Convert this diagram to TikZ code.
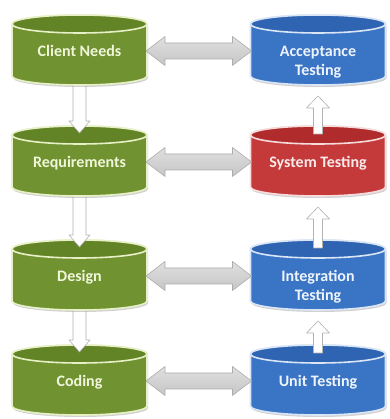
\documentclass[tikz,border=0pt]{standalone}
\usepackage{fontspec}
\setmainfont{Carlito}
\usetikzlibrary{calc,shadows}

\definecolor{grnBody}{RGB}{112,146,48}
\definecolor{grnTop}{RGB}{99,132,38}
\definecolor{grnRim}{RGB}{232,240,200}
\definecolor{grnText}{RGB}{240,246,218}
\definecolor{bluBody}{RGB}{58,116,196}
\definecolor{bluTop}{RGB}{46,100,178}
\definecolor{bluRim}{RGB}{218,230,246}
\definecolor{bluText}{RGB}{238,244,252}
\definecolor{redBody}{RGB}{196,58,58}
\definecolor{redTop}{RGB}{176,44,44}
\definecolor{redRim}{RGB}{246,220,220}
\definecolor{redText}{RGB}{250,234,234}

\tikzset{
  cylbox/.style={rectangle, minimum width=135pt, minimum height=70pt, inner sep=0pt, outer sep=0pt},
  cyltext/.style={anchor=north, inner sep=0pt, align=center, font=\bfseries\fontsize{16}{19.5}\selectfont},
  sidearrow/.style={draw=gray!65, line width=0.6pt, line join=round, top color=gray!25, middle color=white, bottom color=gray!45},
  flowarrow/.style={draw=gray!60, line width=0.6pt, line join=round, fill=white},
  cylshadow/.style={drop shadow={shadow xshift=1pt, shadow yshift=-2pt, opacity=0.3, fill=black!60}},
}

% cylinder drawn inside the box of node #1: body colour #2, lid colour #3, rim colour #4
\newcommand\drawcyl[4]{%
  \path[fill=#2, draw=#4, line width=1.6pt, cylshadow]
    ($(#1.north west)+(0,-9pt)$) -- ($(#1.south west)+(0,9pt)$)
    arc[start angle=180, end angle=360, x radius=67.5pt, y radius=9pt]
    -- ($(#1.north east)+(0,-9pt)$)
    arc[start angle=0, end angle=180, x radius=67.5pt, y radius=9pt] -- cycle;
  \path[fill=#3, draw=#4, line width=1.6pt]
    ($(#1.north)+(0,-9pt)$) ellipse[x radius=67.5pt, y radius=9pt];
}

% downward block arrow from node #1 (above) into node #2 (below)
\newcommand\flowdown[2]{%
  \path[flowarrow] let \p1=($(#1.south)+(0,10pt)$), \p2=($(#2.north)+(0,-7pt)$) in
    (\x1-6.5pt,\y1) -- (\x1-6.5pt,\y2+12pt) -- (\x1-10.5pt,\y2+12pt) -- (\x1,\y2)
    -- (\x1+10.5pt,\y2+12pt) -- (\x1+6.5pt,\y2+12pt) -- (\x1+6.5pt,\y1) -- cycle;
}

% upward block arrow from node #1 (below) towards node #2 (above)
\newcommand\flowup[2]{%
  \path[flowarrow] let \p1=($(#1.north)+(0,-8pt)$), \p2=($(#2.south)+(0,-11pt)$) in
    (\x1-4.5pt,\y1) -- (\x1-4.5pt,\y2-12pt) -- (\x1-11.5pt,\y2-12pt) -- (\x1,\y2)
    -- (\x1+11.5pt,\y2-12pt) -- (\x1+4.5pt,\y2-12pt) -- (\x1+4.5pt,\y1) -- cycle;
}

% horizontal double block arrow between node #1 (left) and node #2 (right)
\newcommand\linkboth[2]{%
  \path[sidearrow] let \p1=($(#1.north east)+(-1pt,-36pt)$), \p2=($(#2.north west)+(1pt,-36pt)$) in
    (\x1,\y1) -- (\x1+19pt,\y1+14.5pt) -- (\x1+19pt,\y1+8pt) -- (\x2-19pt,\y1+8pt)
    -- (\x2-19pt,\y1+14.5pt) -- (\x2,\y1) -- (\x2-19pt,\y1-14.5pt) -- (\x2-19pt,\y1-8pt)
    -- (\x1+19pt,\y1-8pt) -- (\x1+19pt,\y1-14.5pt) -- cycle;
}

\begin{document}
\begin{tikzpicture}[x=1pt,y=1pt]
  \useasboundingbox (0,0) rectangle (389,419);

  % places of the stages
  \node[cylbox] (cn) at (79.5,369) {};
  \node[cylbox] (rq) at (79.5,258) {};
  \node[cylbox] (de) at (79.5,144) {};
  \node[cylbox] (co) at (79.5,39) {};
  \node[cylbox] (at) at (318,369) {};
  \node[cylbox] (st) at (318,258) {};
  \node[cylbox] (it) at (318,144) {};
  \node[cylbox] (ut) at (318,39) {};

  % drawn from the bottom row upwards so each arrow tucks under the stage above it
  \drawcyl{co}{grnBody}{grnTop}{grnRim}
  \drawcyl{ut}{bluBody}{bluTop}{bluRim}
  \flowdown{de}{co}
  \flowup{ut}{it}
  \drawcyl{de}{grnBody}{grnTop}{grnRim}
  \drawcyl{it}{bluBody}{bluTop}{bluRim}
  \flowdown{rq}{de}
  \flowup{it}{st}
  \drawcyl{rq}{grnBody}{grnTop}{grnRim}
  \drawcyl{st}{redBody}{redTop}{redRim}
  \flowdown{cn}{rq}
  \flowup{st}{at}
  \drawcyl{cn}{grnBody}{grnTop}{grnRim}
  \drawcyl{at}{bluBody}{bluTop}{bluRim}

  % links between each stage and its test level
  \linkboth{cn}{at}
  \linkboth{rq}{st}
  \linkboth{de}{it}
  \linkboth{co}{ut}

  % labels
  \node[cyltext, text=grnText] (cnt) at ($(cn.north)+(0,-27.4pt)$) {\strut Client Needs};
  \node[cyltext, text=grnText] (rqt) at ($(rq.north)+(0,-27.4pt)$) {\strut Requirements};
  \node[cyltext, text=grnText] (det) at ($(de.north)+(0,-27.4pt)$) {\strut Design};
  \node[cyltext, text=grnText] (cot) at ($(co.north)+(0,-27.4pt)$) {\strut Coding};
  \node[cyltext, text=bluText] (att) at ($(at.north)+(0,-27.4pt)$) {\strut Acceptance\\Testing};
  \node[cyltext, text=redText] (stt) at ($(st.north)+(0,-27.4pt)$) {\strut System Testing};
  \node[cyltext, text=bluText] (itt) at ($(it.north)+(0,-27.4pt)$) {\strut Integration\\Testing};
  \node[cyltext, text=bluText] (utt) at ($(ut.north)+(0,-27.4pt)$) {\strut Unit Testing};
\end{tikzpicture}
\end{document}
